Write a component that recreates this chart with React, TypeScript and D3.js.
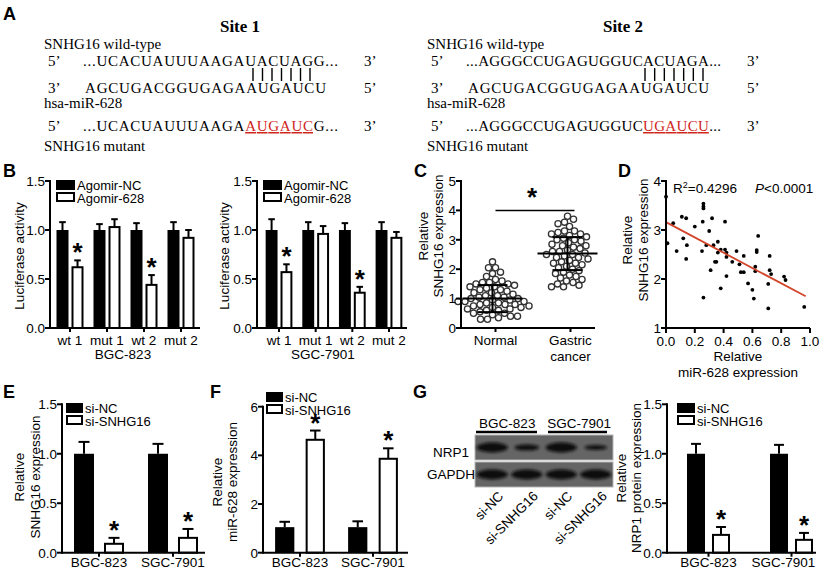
import React from "react";
import * as d3 from "d3";

const SANS = "'Liberation Sans', Arial, Helvetica, sans-serif";
const SERIF = "'Liberation Serif', 'Times New Roman', Times, serif";

// A: binding sites
const siteTitles = ["Site 1", "Site 2"];
const wildSeqs = ["...UCACUAUUUAAGAUACUAGG...", "...AGGGCCUGAGUGGUCACUAGA..."];
const mirSeq = "AGCUGACGGUGAGAAUGAUCU";
const mutPrefix = ["...UCACUAUUUAAGA", "...AGGGCCUGAGUGGUC"];
const mutRed = ["AUGAUC", "UGAUCU"];
const mutSuffix = ["G...", "..."];
const pairCount = 7;

// B: luciferase
const lucCategories = ["wt 1", "mut 1", "wt 2", "mut 2"];
const agomirSeries = ["Agomir-NC", "Agomir-628"];
const bgcAgoNC = [1, 1, 1, 1];
const bgcAgoNCErr = [0.08, 0.06, 0.07, 0.08];
const bgcAgo628 = [0.62, 1.03, 0.44, 0.92];
const bgcAgo628Err = [0.07, 0.08, 0.1, 0.08];
const sgcAgoNC = [1, 1, 1, 1];
const sgcAgoNCErr = [0.11, 0.08, 0.07, 0.08];
const sgcAgo628 = [0.57, 0.96, 0.36, 0.92];
const sgcAgo628Err = [0.08, 0.08, 0.06, 0.06];
const lucStars = [true, false, true, false];
const unitTicks = [0, 0.5, 1, 1.5];

// C: SNHG16 in tissues
const tissueGroups = ["Normal", "Gastric cancer"];
const normalExpr = [2.25, 2.05, 2.05, 1.9, 1.85, 1.75, 1.65, 1.6, 1.55, 1.55, 1.5, 1.5, 1.45, 1.4, 1.4, 1.35, 1.3, 1.3, 1.25, 1.2, 1.2, 1.15, 1.1, 1.1, 1.05, 1.05, 1.0, 1.0, 0.95, 0.95, 0.9, 0.9, 0.9, 0.85, 0.85, 0.8, 0.8, 0.8, 0.75, 0.75, 0.7, 0.7, 0.65, 0.65, 0.6, 0.6, 0.55, 0.5, 0.5, 0.45, 0.4, 0.4, 0.35, 0.3, 0.3];
const gastricExpr = [3.8, 3.7, 3.6, 3.55, 3.45, 3.3, 3.3, 3.25, 3.2, 3.2, 3.15, 3.1, 3.05, 3.0, 3.0, 2.95, 2.9, 2.85, 2.8, 2.8, 2.75, 2.7, 2.65, 2.6, 2.6, 2.55, 2.5, 2.5, 2.45, 2.4, 2.4, 2.35, 2.3, 2.25, 2.2, 2.2, 2.15, 2.1, 2.05, 2.0, 1.95, 1.9, 1.85, 1.8, 1.75, 1.7, 1.65, 1.6, 1.55, 1.5, 1.45, 1.4, 1.4];
const tissueMean = [1.0, 2.53];
const tissueSD = [0.46, 0.56];
const exprTicks = [0, 1, 2, 3, 4, 5];

// D: correlation
const corrMir = [0, 0.01, 0.05, 0.074, 0.11, 0.14, 0.12, 0.145, 0.14, 0.2, 0.26, 0.26, 0.26, 0.255, 0.25, 0.26, 0.28, 0.32, 0.3, 0.33, 0.35, 0.34, 0.31, 0.36, 0.36, 0.38, 0.38, 0.41, 0.41, 0.42, 0.42, 0.42, 0.46, 0.49, 0.51, 0.54, 0.52, 0.54, 0.57, 0.6, 0.61, 0.62, 0.63, 0.63, 0.64, 0.62, 0.71, 0.71, 0.72, 0.72, 0.73, 0.82, 0.83, 0.96];
const corrSnhg = [3.68, 2.73, 3.14, 2.57, 3.27, 3.24, 2.83, 2.69, 2.41, 3.07, 3.54, 3.48, 3.44, 3.17, 2.57, 1.62, 2.69, 3.24, 2.98, 2.69, 2.35, 2.35, 2.18, 2.76, 2.54, 1.81, 2.6, 3.17, 2.6, 2.54, 2.45, 2.06, 2.35, 2.57, 2.3, 2.47, 2.14, 2.14, 1.91, 1.78, 1.6, 2.25, 2.55, 2.59, 2.88, 2.16, 1.4, 1.9, 2.47, 2.18, 2.1, 2.05, 1.98, 1.43];
const fitIntercept = 3.16;
const fitSlope = -1.56;
const fitRange = [0, 0.97];

// E, F, G
const cellLines = ["BGC-823", "SGC-7901"];
const siSeries = ["si-NC", "si-SNHG16"];
const snhgNC = [1, 1];
const snhgNCErr = [0.12, 0.1];
const snhgSi = [0.09, 0.15];
const snhgSiErr = [0.06, 0.09];
const mirNC = [1.05, 1.05];
const mirNCErr = [0.22, 0.24];
const mirSi = [4.64, 3.86];
const mirSiErr = [0.38, 0.43];
const nrpNC = [1, 1];
const nrpNCErr = [0.1, 0.09];
const nrpSi = [0.18, 0.13];
const nrpSiErr = [0.08, 0.07];
const bothStars = [true, true];

const blotLanes = ["si-NC", "si-SNHG16", "si-NC", "si-SNHG16"];
const nrp1Band = [1, 0.45, 1, 0.3];
const gapdhBand = [1, 1, 1, 1];

const f1 = d3.format(".1f");
const f0 = d3.format("d");

function YAxis({ scale, x, ticks, fmt }: any) {
  const [r0, r1] = scale.range();
  return (
    <g>
      <line x1={x} x2={x} y1={r0 + 1} y2={r1 - 1} stroke="#000" strokeWidth={2} />
      {ticks.map((t: number) => (
        <g key={t}>
          <line x1={x - 5} x2={x} y1={scale(t)} y2={scale(t)} stroke="#000" strokeWidth={2} />
          <text x={x - 5} y={scale(t)} dy="0.36em" textAnchor="end" fontSize={13.5}>
            {fmt(t)}
          </text>
        </g>
      ))}
    </g>
  );
}

function YLabel({ lines, cy }: any) {
  return (
    <g fontSize={13.5}>
      {lines.map((l: any) => (
        <text key={l.text} transform={`translate(${l.x},${cy}) rotate(-90)`} textAnchor="middle" dominantBaseline="central">
          {l.text}
        </text>
      ))}
    </g>
  );
}

function Star({ x, y }: any) {
  return (
    <text x={x} y={y} textAnchor="middle" fontSize={26} fontWeight="bold">
      *
    </text>
  );
}

function Legend({ x, y, w, names }: any) {
  return (
    <g fontSize={13}>
      <rect x={x} y={y} width={w} height={10} fill="#000" />
      <rect x={x + 1} y={y + 13} width={w - 2} height={8} fill="#fff" stroke="#000" strokeWidth={2} />
      <text x={x + w + 2} y={y + 10}>{names[0]}</text>
      <text x={x + w + 2} y={y + 23}>{names[1]}</text>
    </g>
  );
}

function BarPanel(p: any) {
  const y = d3.scaleLinear().domain([0, p.yMax]).range([p.bottom, p.top]);
  const x = d3.scaleBand().domain(p.cats).range(p.band);
  const sub = d3.scaleBand().domain(p.names).range([0, x.step()]).paddingInner(p.inner).paddingOuter(p.outer);
  const bw = sub.bandwidth();
  const cap = bw * 0.55;
  const shift = p.labelShift || p.cats.map(() => 0);
  return (
    <g>
      {p.cats.map((c: string, i: number) =>
        p.names.map((s: string, j: number) => {
          const v = p.values[j][i];
          const e = p.errs[j][i];
          const bx = (x(c) as number) + (sub(s) as number);
          const cx = bx + bw / 2;
          const yt = y(v);
          const yc = y(v + e);
          return (
            <g key={c + s}>
              <line x1={cx} x2={cx} y1={yt} y2={yc} stroke="#000" strokeWidth={2} />
              <line x1={cx - cap / 2} x2={cx + cap / 2} y1={yc} y2={yc} stroke="#000" strokeWidth={2} />
              {j === 0 ? (
                <rect x={bx} y={yt} width={bw} height={p.bottom - yt} fill="#000" />
              ) : (
                <rect x={bx + 1} y={yt} width={bw - 2} height={p.bottom - yt} fill="#fff" stroke="#000" strokeWidth={2} />
              )}
              {j === 1 && p.stars[i] && <Star x={cx} y={yc + 1} />}
            </g>
          );
        })
      )}
      <line x1={p.left} x2={p.right} y1={p.bottom} y2={p.bottom} stroke="#000" strokeWidth={2} />
      {p.cats.map((c: string, i: number) => {
        const cx = (x(c) as number) + x.bandwidth() / 2;
        return (
          <g key={c}>
            <line x1={cx} x2={cx} y1={p.bottom} y2={p.bottom + 4} stroke="#000" strokeWidth={2} />
            <text x={cx + shift[i]} y={p.xLabelY} textAnchor="middle" fontSize={13.5}>{c}</text>
          </g>
        );
      })}
      <YAxis scale={y} x={p.left} ticks={p.ticks} fmt={p.fmt} />
      <Legend x={p.legendX} y={p.legendY} w={p.legendW} names={p.names} />
      <YLabel lines={p.ylabels} cy={p.ylabelY} />
      {p.title && (
        <text x={p.titleX} y={p.titleY} textAnchor="middle" fontSize={13.5}>{p.title}</text>
      )}
    </g>
  );
}

function PanelA() {
  const spans = [[209, 266], [218, 276]];
  const siteX = [44, 427];
  return (
    <g fontFamily={SERIF} fontSize={15}>
      {siteTitles.map((t, i) => {
        const pair = d3.scaleLinear().domain([0, pairCount - 1]).range(spans[i]);
        return (
          <g key={t} transform={`translate(${siteX[i]},0)`}>
            <text x={196} y={32} textAnchor="middle" fontWeight="bold" fontSize={17}>{t}</text>
            <text x={0} y={49}>SNHG16 wild-type</text>
            <text x={4} y={66}>5’</text>
            <text x={39} y={66} textLength={255} lengthAdjust="spacing">{wildSeqs[i]}</text>
            <text x={320} y={66}>3’</text>
            {d3.range(pairCount).map((k) => (
              <line key={k} x1={pair(k)} x2={pair(k)} y1={68} y2={81} stroke="#000" strokeWidth={1.4} />
            ))}
            <text x={4} y={93}>3’</text>
            <text x={41} y={93} textLength={241} lengthAdjust="spacing">{mirSeq}</text>
            <text x={320} y={93}>5’</text>
            <text x={0} y={108}>hsa-miR-628</text>
            <text x={4} y={131}>5’</text>
            <text x={39} y={131} textLength={255} lengthAdjust="spacing">
              {mutPrefix[i]}
              <tspan fill="#d1261c" style={{ textDecoration: "underline" }}>{mutRed[i]}</tspan>
              {mutSuffix[i]}
            </text>
            <text x={320} y={131}>3’</text>
            <text x={0} y={151}>SNHG16 mutant</text>
          </g>
        );
      })}
    </g>
  );
}

function swarm(vals: number[], y: (v: number) => number, d: number) {
  const order = d3.range(vals.length).sort((a, b) => d3.descending(vals[a], vals[b]));
  const placed: [number, number][] = [];
  const xs = new Array(vals.length).fill(0);
  for (const i of order) {
    const py = y(vals[i]);
    for (let k = 0; k < 400; k++) {
      const off = k === 0 ? 0 : (k % 2 ? 1 : -1) * Math.ceil(k / 2) * 0.5;
      if (placed.every(([px, qy]) => (px - off) ** 2 + (qy - py) ** 2 >= d * d)) {
        xs[i] = off;
        placed.push([off, py]);
        break;
      }
    }
  }
  return xs;
}

function PanelC() {
  const left = 461, right = 595, top = 181, bottom = 328;
  const y = d3.scaleLinear().domain([0, 5]).range([bottom, top]);
  const x = d3.scaleBand().domain(tissueGroups).range([458, 608]);
  const groups = [normalExpr, gastricExpr];
  const c0 = (x(tissueGroups[0]) as number) + x.bandwidth() / 2;
  const c1 = (x(tissueGroups[1]) as number) + x.bandwidth() / 2;
  return (
    <g>
      {groups.map((vals, gi) => {
        const cx = (x(tissueGroups[gi]) as number) + x.bandwidth() / 2 - 3;
        const offs = swarm(vals, y, 6.6);
        const m = tissueMean[gi], sd = tissueSD[gi];
        return (
          <g key={gi}>
            {vals.map((v, i) => (
              <circle key={i} cx={cx + offs[i]} cy={y(v)} r={3.1} fill="none" stroke="#333" strokeWidth={1.3} />
            ))}
            <line x1={cx - 30} x2={cx + 30} y1={y(m)} y2={y(m)} stroke="#000" strokeWidth={2} />
            <line x1={cx} x2={cx} y1={y(m - sd)} y2={y(m + sd)} stroke="#000" strokeWidth={2} />
            <line x1={cx - 15} x2={cx + 15} y1={y(m + sd)} y2={y(m + sd)} stroke="#000" strokeWidth={2} />
            <line x1={cx - 15} x2={cx + 15} y1={y(m - sd)} y2={y(m - sd)} stroke="#000" strokeWidth={2} />
          </g>
        );
      })}
      <line x1={c0} x2={c1 + 4} y1={y(4)} y2={y(4)} stroke="#000" strokeWidth={1.5} />
      <Star x={(c0 + c1) / 2 - 1} y={y(4) - 4} />
      <line x1={left} x2={right} y1={bottom} y2={bottom} stroke="#000" strokeWidth={2} />
      {[c0, c1].map((c) => (
        <line key={c} x1={c} x2={c} y1={bottom} y2={bottom + 4} stroke="#000" strokeWidth={2} />
      ))}
      <text x={c0} y={345} textAnchor="middle" fontSize={13.5}>Normal</text>
      <text x={c1} y={345} textAnchor="middle" fontSize={13.5}>Gastric</text>
      <text x={c1} y={361} textAnchor="middle" fontSize={13.5}>cancer</text>
      <YAxis scale={y} x={left} ticks={exprTicks} fmt={f0} />
      <YLabel lines={[{ text: "Relative", x: 423 }, { text: "SNHG16 expression", x: 438 }]} cy={236} />
    </g>
  );
}

function PanelD() {
  const left = 666, bottom = 328;
  const x = d3.scaleLinear().domain([0, 1]).range([666, 810]);
  const y = d3.scaleLinear().domain([1, 4]).range([328, 181]);
  const xt = d3.range(0, 1.01, 0.2);
  return (
    <g>
      {corrMir.map((v, i) => (
        <circle key={i} cx={x(v)} cy={y(corrSnhg[i])} r={1.9} fill="#000" />
      ))}
      <line
        x1={x(fitRange[0])}
        x2={x(fitRange[1])}
        y1={y(fitIntercept + fitSlope * fitRange[0])}
        y2={y(fitIntercept + fitSlope * fitRange[1])}
        stroke="#d2452a"
        strokeWidth={1.8}
      />
      <line x1={left} x2={810} y1={bottom} y2={bottom} stroke="#000" strokeWidth={2} />
      {xt.map((t) => (
        <g key={t}>
          <line x1={x(t)} x2={x(t)} y1={bottom} y2={bottom + 5} stroke="#000" strokeWidth={2} />
          <text x={x(t)} y={346} textAnchor="middle" fontSize={13.5}>{f1(t)}</text>
        </g>
      ))}
      <YAxis scale={y} x={left} ticks={[1, 2, 3, 4]} fmt={f0} />
      <text x={673} y={193} fontSize={13.5}>
        R<tspan dy={-5} fontSize={9}>2</tspan>
        <tspan dy={5}>=0.4296</tspan>
      </text>
      <text x={755} y={193} fontSize={13.5}>
        <tspan fontStyle="italic">P</tspan>&lt;0.0001
      </text>
      <text x={738} y={361} textAnchor="middle" fontSize={13.5}>Relative</text>
      <text x={738} y={377} textAnchor="middle" fontSize={13.5}>miR-628 expression</text>
      <YLabel lines={[{ text: "Relative", x: 627 }, { text: "SNHG16 expression", x: 643 }]} cy={240} />
    </g>
  );
}

function Blot() {
  const lane = d3.scaleBand().domain(blotLanes.map((_, i) => String(i))).range([475, 613]);
  const rows = [
    { name: "NRP1", y0: 435, bands: nrp1Band, ty: 457 },
    { name: "GAPDH", y0: 462, bands: gapdhBand, ty: 479 },
  ];
  const h = 25;
  const lc = (i: number) => (lane(String(i)) as number) + lane.bandwidth() / 2;
  return (
    <g>
      <defs>
        <filter id="bandBlur" x="-30%" y="-80%" width="160%" height="260%">
          <feGaussianBlur stdDeviation={1.6} />
        </filter>
      </defs>
      <text x={lc(0) + 15} y={428} textAnchor="middle" fontSize={13.5}>{cellLines[0]}</text>
      <text x={lc(2) + 18} y={428} textAnchor="middle" fontSize={13.5}>{cellLines[1]}</text>
      <line x1={476} x2={537} y1={432} y2={432} stroke="#000" strokeWidth={2.5} />
      <line x1={548} x2={607} y1={432} y2={432} stroke="#000" strokeWidth={2.5} />
      {rows.map((r) => (
        <g key={r.name}>
          <rect x={475} y={r.y0} width={138} height={h} fill="#656565" stroke="#b5b5b5" strokeWidth={1} />
          {r.bands.map((b, i) => (
            <ellipse
              key={i}
              cx={lc(i)}
              cy={r.y0 + h / 2}
              rx={lane.bandwidth() * (0.28 + 0.17 * b)}
              ry={1.5 + 3.5 * b}
              fill="#0e0e0e"
              filter="url(#bandBlur)"
            />
          ))}
          <text x={451} y={r.ty} textAnchor="middle" fontSize={13.5}>{r.name}</text>
        </g>
      ))}
      {blotLanes.map((l, i) => (
        <text key={i} transform={`translate(${lc(i) + 12},497) rotate(-45)`} textAnchor="end" fontSize={13.5}>
          {l}
        </text>
      ))}
    </g>
  );
}

export default function App() {
  return (
    <svg
      width={820}
      height={576}
      viewBox="0 0 820 576"
      style={{ position: "absolute", left: 0, top: 0 }}
      fontFamily={SANS}
    >
      <rect width={820} height={576} fill="#fff" />
      <g fontSize={18} fontWeight="bold">
        <text x={3} y={20}>A</text>
        <text x={3} y={177}>B</text>
        <text x={414} y={177}>C</text>
        <text x={618} y={177}>D</text>
        <text x={3} y={398}>E</text>
        <text x={210} y={398}>F</text>
        <text x={413} y={398}>G</text>
      </g>
      <PanelA />
      <BarPanel
        left={50} right={200} top={181} bottom={328} band={[51.5, 199.5]} yMax={1.5}
        ticks={unitTicks} fmt={f1} cats={lucCategories} names={agomirSeries}
        values={[bgcAgoNC, bgcAgo628]} errs={[bgcAgoNCErr, bgcAgo628Err]} stars={lucStars}
        inner={0.2} outer={0.333} legendX={56} legendY={180} legendW={19}
        ylabels={[{ text: "Luciferase activity", x: 19 }]} ylabelY={256} xLabelY={345}
        title="BGC-823" titleX={123} titleY={359}
      />
      <BarPanel
        left={257} right={407} top={181} bottom={328} band={[260.7, 407.3]} yMax={1.5}
        ticks={unitTicks} fmt={f1} cats={lucCategories} names={agomirSeries}
        values={[sgcAgoNC, sgcAgo628]} errs={[sgcAgoNCErr, sgcAgo628Err]} stars={lucStars}
        inner={0.2} outer={0.333} legendX={263} legendY={180} legendW={19}
        ylabels={[{ text: "Luciferase activity", x: 224 }]} ylabelY={256} xLabelY={345}
        title="SGC-7901" titleX={323} titleY={359}
      />
      <PanelC />
      <PanelD />
      <BarPanel
        left={62} right={205} top={404.3} bottom={552.7} band={[62, 210]} yMax={1.5}
        ticks={unitTicks} fmt={f1} cats={cellLines} names={siSeries}
        values={[snhgNC, snhgSi]} errs={[snhgNCErr, snhgSiErr]} stars={bothStars}
        inner={1 / 3} outer={0.4} legendX={66} legendY={403} legendW={17}
        ylabels={[{ text: "Relative", x: 19 }, { text: "SNHG16 expression", x: 35 }]} ylabelY={477} xLabelY={567}
      />
      <BarPanel
        left={263} right={408} top={406.7} bottom={552.7} band={[263.5, 409.5]} yMax={6}
        ticks={[0, 2, 4, 6]} fmt={f0} cats={cellLines} names={siSeries}
        values={[mirNC, mirSi]} errs={[mirNCErr, mirSiErr]} stars={bothStars}
        inner={0.37} outer={0.38} legendX={266} legendY={392} legendW={17}
        ylabels={[{ text: "Relative", x: 217 }, { text: "miR-628 expression", x: 232 }]} ylabelY={482} xLabelY={567}
      />
      <Blot />
      <BarPanel
        left={667} right={816} top={404.3} bottom={552.7} band={[667, 833]} yMax={1.5}
        ticks={unitTicks} fmt={f1} cats={cellLines} names={siSeries}
        values={[nrpNC, nrpSi]} errs={[nrpNCErr, nrpSiErr]} stars={bothStars}
        inner={0.28} outer={0.8} legendX={677} legendY={403} legendW={18}
        labelShift={[0, -8]}
        ylabels={[{ text: "Relative", x: 621 }, { text: "NRP1 protein expression", x: 636 }]} ylabelY={478} xLabelY={567}
      />
    </svg>
  );
}
